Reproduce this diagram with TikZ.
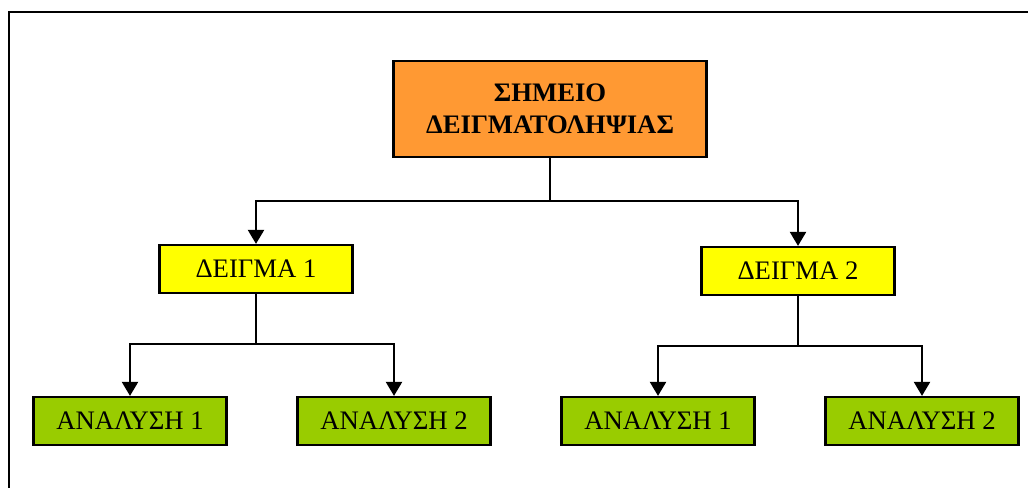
\documentclass[tikz,border=0pt]{standalone}
\usepackage{fontspec}
\setmainfont{Liberation Serif}
\usepackage{tikz}
\usetikzlibrary{calc,positioning,arrows.meta}
\definecolor{pointcol}{RGB}{255,153,51}
\definecolor{samplecol}{RGB}{255,255,0}
\definecolor{analysiscol}{RGB}{153,204,0}
\tikzset{
  box/.style={draw=black, line width=0.55mm, minimum width=193*0.25mm, minimum height=48*0.25mm, inner sep=0pt, font=\fontsize{19}{23}\selectfont},
  link/.style={draw=black, line width=0.55mm, -{Triangle[length=3.5mm, width=4mm]}}
}

\begin{document}
\begin{tikzpicture}[x=0.25mm, y=-0.25mm]
  \useasboundingbox (0,0) rectangle (1028,488);
  % frame
  \draw[line width=0.6mm] (1028,12) -- (9,12) -- (9,488);
  % sampling point
  \node[box, fill=pointcol, minimum width=313*0.25mm, minimum height=96*0.25mm, align=center,
        font=\fontsize{19}{23}\selectfont\bfseries] (point) at (550,109) {ΣΗΜΕΙΟ\\ΔΕΙΓΜΑΤΟΛΗΨΙΑΣ};
  % samples
  \node[box, fill=samplecol] (s1) at (256,269) {ΔΕΙΓΜΑ 1};
  \node[box, fill=samplecol] (s2) at (798,271) {ΔΕΙΓΜΑ 2};
  % analyses
  \foreach \s/\x in {1/130, 2/658}{
    \node[box, fill=analysiscol] (a\s1) at (\x,421) {ΑΝΑΛΥΣΗ 1};
    \node[box, fill=analysiscol] (a\s2) at (\x+264,421) {ΑΝΑΛΥΣΗ 2};
  }
  % connectors
  \coordinate (j0) at (550,201);
  \draw[link] (point.south) -- (j0) -| (s1.north);
  \draw[link] (j0) -| (s2.north);
  \foreach \s in {1,2}{
    \coordinate (j\s) at ($(s\s.south)+(0,50)$);
    \draw[link] (s\s.south) -- (j\s) -| (a\s1.north);
    \draw[link] (j\s) -| (a\s2.north);
  }
\end{tikzpicture}
\end{document}
